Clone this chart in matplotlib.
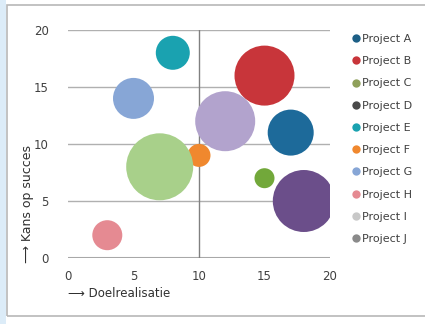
import matplotlib.pyplot as plt
from matplotlib.patches import Rectangle
from matplotlib.lines import Line2D

projects = ['Project A', 'Project B', 'Project C', 'Project D', 'Project E',
            'Project F', 'Project G', 'Project H', 'Project I', 'Project J']
doelrealisatie = [17, 15, 15, 18, 8, 10, 5, 3, 12, 7]
kans_op_succes = [11, 16, 7, 5, 18, 9, 14, 2, 12, 8]
# bubble size (diameter in pixels)
bubble_size = [46, 60, 20, 62, 34, 23, 41, 30, 60, 67]

bubble_colors = ['#1d6a9a', '#c8353a', '#72a83a', '#6b4e8a', '#1aa2b0',
                 '#f0882e', '#87a6d6', '#e58a92', '#b2a3cd', '#a8d08a']
legend_colors = ['#1d5f86', '#c8353a', '#8fa05a', '#4a4a4a', '#1aa2b0',
                 '#f0882e', '#87a6d6', '#e58a92', '#c8c8c8', '#8a8a8a']

fig = plt.figure(figsize=(4.25, 3.24), dpi=100)
fig.patch.set_facecolor('white')

# light blue strip at the left edge and the chart frame
fig.add_artist(Rectangle((0, 0), 6 / 425, 1, transform=fig.transFigure,
                         facecolor='#dcecf8', edgecolor='none'))
fig.add_artist(Rectangle((7 / 425, 8 / 324), 1.0, 311 / 324, transform=fig.transFigure,
                         facecolor='none', edgecolor='#b8b8b8', linewidth=1.2))

ax = fig.add_axes([68 / 425, 66 / 324, 262 / 425, 228 / 324])
ax.set_xlim(0, 20)
ax.set_ylim(0, 20)

# size in points^2 from pixel diameter
sizes = [(d * 0.72) ** 2 for d in bubble_size]
ax.scatter(doelrealisatie, kans_op_succes, s=sizes, c=bubble_colors,
           edgecolors='none', zorder=3)

for y in [5, 10, 15, 20]:
    ax.axhline(y, color='#b0b0b0', linewidth=1, zorder=1)
ax.axhline(0, color='#a8a8a8', linewidth=1.5, zorder=1)
ax.axvline(10, color='#808080', linewidth=1, zorder=1)

for s in ax.spines.values():
    s.set_visible(False)
ax.set_xticks([0, 5, 10, 15, 20])
ax.set_yticks([0, 5, 10, 15, 20])
ax.tick_params(length=0, labelsize=8.5, labelcolor='#404040')
ax.tick_params(axis='x', pad=9)
ax.tick_params(axis='y', pad=14)

ax.text(0, -3.1, '\u27f6 Doelrealisatie', fontsize=8.5, color='#303030',
        ha='left', va='center')
ax.text(-3.1, -0.4, '\u27f6 Kans op succes', fontsize=9, color='#303030',
        rotation=90, ha='center', va='bottom')

handles = [Line2D([0], [0], marker='o', linestyle='none', markersize=6,
                  markerfacecolor=c, markeredgecolor='none') for c in legend_colors]
fig.legend(handles, projects, loc='upper left', bbox_to_anchor=(340 / 425, 300 / 324),
           frameon=False, fontsize=8, labelspacing=1.1, handletextpad=0.1,
           handlelength=1.0, labelcolor='#404040')

fig.savefig('out.png', dpi=100)
